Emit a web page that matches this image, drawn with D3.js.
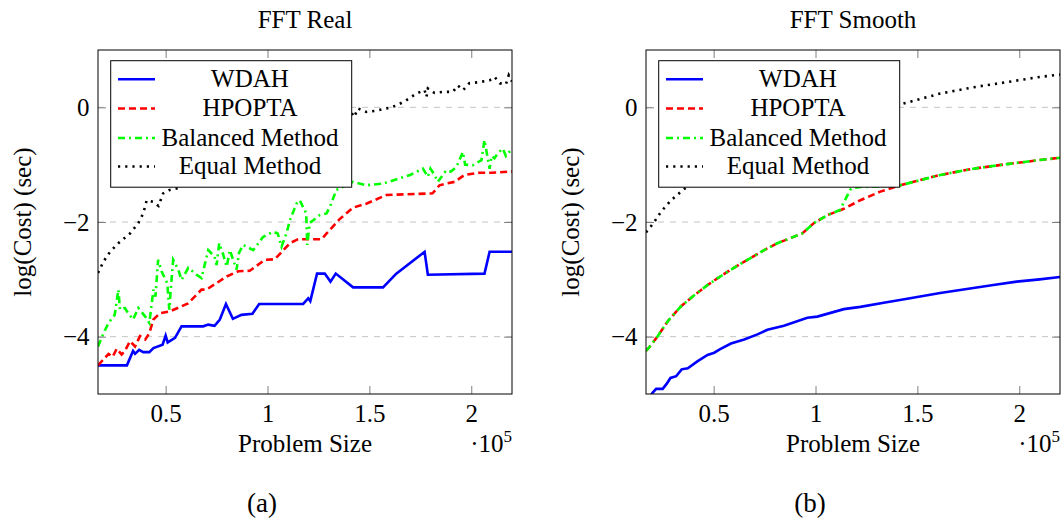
<!DOCTYPE html>
<html><head><meta charset="utf-8">
<script src="https://cdn.jsdelivr.net/npm/d3@7"></script>
<style>body{margin:0;background:#fff}svg{display:block}</style>
</head><body>
<svg id="c" width="1062" height="524"></svg>
<script>
// ---------- data (x in units of 1e5, y = log(Cost)) ----------
const xTicks = [0.5, 1, 1.5, 2];
const yTicks = [-4, -2, 0];
const xDomain = [0.168, 2.2];
const yDomain = [-5, 1];
const seriesNames = ["WDAH", "HPOPTA", "Balanced Method", "Equal Method"];
const panelTitles = ["FFT Real", "FFT Smooth"];
const panelTags = ["(a)", "(b)"];

const realWDAH = [[0.168,-4.5],[0.31,-4.5],[0.34,-4.25],[0.35,-4.3],[0.37,-4.23],[0.39,-4.27],[0.42,-4.27],[0.44,-4.2],[0.485,-4.14],[0.50,-3.98],[0.51,-4.1],[0.546,-4.02],[0.578,-3.82],[0.684,-3.82],[0.709,-3.79],[0.74,-3.81],[0.766,-3.7],[0.796,-3.43],[0.83,-3.69],[0.872,-3.62],[0.926,-3.6],[0.959,-3.43],[1.175,-3.43],[1.2,-3.33],[1.21,-3.38],[1.243,-2.9],[1.281,-2.9],[1.309,-3.04],[1.335,-2.9],[1.42,-3.14],[1.567,-3.14],[1.632,-2.9],[1.771,-2.52],[1.787,-2.92],[2.065,-2.9],[2.09,-2.52],[2.2,-2.52]];
const realHPOPTA = [[0.168,-4.5],[0.22,-4.3],[0.24,-4.35],[0.26,-4.21],[0.284,-4.31],[0.30,-4.25],[0.325,-4.08],[0.35,-4.17],[0.374,-3.99],[0.40,-4.05],[0.42,-3.94],[0.44,-3.7],[0.472,-3.59],[0.52,-3.56],[0.61,-3.42],[0.676,-3.18],[0.70,-3.18],[0.80,-2.95],[0.856,-2.86],[0.913,-2.85],[0.987,-2.66],[1.036,-2.65],[1.11,-2.37],[1.15,-2.3],[1.265,-2.3],[1.29,-2.2],[1.354,-1.95],[1.42,-1.75],[1.485,-1.68],[1.583,-1.53],[1.81,-1.5],[1.844,-1.36],[1.877,-1.33],[1.918,-1.3],[1.967,-1.18],[2.04,-1.14],[2.1,-1.14],[2.2,-1.12]];
const realBalanced = [[0.168,-4.17],[0.195,-3.94],[0.22,-3.76],[0.25,-3.62],[0.268,-3.18],[0.276,-3.53],[0.30,-3.5],[0.316,-3.59],[0.34,-3.7],[0.366,-3.5],[0.40,-3.65],[0.42,-3.76],[0.43,-3.47],[0.44,-3.18],[0.45,-3.3],[0.463,-2.66],[0.48,-2.86],[0.508,-3.07],[0.518,-3.53],[0.525,-3.18],[0.537,-2.66],[0.562,-2.83],[0.578,-3.01],[0.611,-2.8],[0.652,-2.92],[0.676,-2.98],[0.709,-2.49],[0.74,-2.6],[0.75,-2.75],[0.763,-2.37],[0.78,-2.54],[0.80,-2.78],[0.815,-2.49],[0.848,-2.83],[0.86,-2.54],[0.88,-2.4],[0.93,-2.49],[0.978,-2.26],[1.027,-2.17],[1.05,-2.2],[1.069,-2.43],[1.093,-2.2],[1.11,-1.97],[1.142,-1.68],[1.158,-1.62],[1.19,-1.85],[1.195,-2.4],[1.207,-2.02],[1.256,-1.88],[1.29,-1.85],[1.31,-1.7],[1.338,-1.44],[1.42,-1.3],[1.485,-1.36],[1.567,-1.33],[1.7,-1.18],[1.763,-1.07],[1.787,-1.21],[1.8,-1.07],[1.82,-1.18],[1.836,-1.3],[1.877,-1.1],[1.9,-1.12],[1.927,-1.04],[1.959,-0.78],[1.97,-1.0],[2.008,-1.01],[2.05,-0.92],[2.065,-0.57],[2.09,-1.07],[2.1,-0.85],[2.114,-0.89],[2.13,-0.8],[2.155,-0.72],[2.17,-0.85],[2.2,-0.72]];
const realEqual = [[0.168,-2.89],[0.195,-2.69],[0.227,-2.52],[0.268,-2.37],[0.325,-2.2],[0.366,-2.02],[0.39,-1.85],[0.407,-1.62],[0.44,-1.65],[0.465,-1.72],[0.488,-1.5],[0.52,-1.44],[0.56,-1.41],[0.62,-1.3],[0.7,-1.15],[0.8,-0.95],[0.9,-0.75],[1.0,-0.55],[1.1,-0.4],[1.2,-0.3],[1.3,-0.15],[1.38,-0.1],[1.41,-0.08],[1.425,-0.17],[1.444,-0.02],[1.485,-0.08],[1.534,-0.06],[1.583,-0.02],[1.632,0.03],[1.68,0.12],[1.73,0.24],[1.771,0.3],[1.78,0.18],[1.787,0.33],[1.82,0.25],[1.86,0.27],[1.91,0.27],[1.934,0.38],[1.96,0.3],[1.99,0.42],[2.04,0.44],[2.09,0.47],[2.115,0.53],[2.14,0.42],[2.17,0.4],[2.184,0.56],[2.2,0.45]];

const smoothWDAH = [[0.168,-5.15],[0.2,-4.98],[0.218,-4.91],[0.25,-4.91],[0.27,-4.82],[0.288,-4.72],[0.316,-4.69],[0.343,-4.57],[0.373,-4.55],[0.42,-4.43],[0.47,-4.32],[0.503,-4.28],[0.53,-4.22],[0.585,-4.12],[0.65,-4.05],[0.715,-3.96],[0.764,-3.88],[0.845,-3.81],[0.96,-3.67],[1.009,-3.65],[1.139,-3.52],[1.22,-3.48],[1.335,-3.41],[1.45,-3.34],[1.612,-3.24],[1.775,-3.15],[1.873,-3.1],[1.987,-3.04],[2.1,-3.0],[2.2,-2.96]];
const smoothHPOPTA = [[0.168,-4.25],[0.185,-4.18],[0.226,-3.99],[0.275,-3.73],[0.34,-3.47],[0.397,-3.3],[0.47,-3.1],[0.52,-2.98],[0.585,-2.83],[0.666,-2.66],[0.748,-2.49],[0.813,-2.37],[0.878,-2.28],[0.935,-2.2],[0.992,-2.02],[1.058,-1.88],[1.139,-1.77],[1.22,-1.62],[1.318,-1.47],[1.416,-1.36],[1.612,-1.18],[1.775,-1.07],[1.94,-0.99],[2.1,-0.92],[2.2,-0.88]];
const smoothBalanced = [[0.168,-4.25],[0.185,-4.18],[0.226,-3.99],[0.275,-3.73],[0.34,-3.47],[0.397,-3.3],[0.47,-3.1],[0.52,-2.98],[0.585,-2.83],[0.666,-2.66],[0.748,-2.49],[0.813,-2.37],[0.878,-2.28],[0.935,-2.2],[0.992,-2.02],[1.058,-1.88],[1.12,-1.79],[1.17,-1.44],[1.18,-1.41],[1.22,-1.39],[1.3,-1.38],[1.416,-1.36],[1.612,-1.18],[1.775,-1.07],[1.94,-0.99],[2.1,-0.92],[2.2,-0.88]];
const smoothEqual = [[0.168,-2.18],[0.185,-2.11],[0.21,-1.99],[0.242,-1.82],[0.291,-1.62],[0.34,-1.47],[0.4,-1.3],[0.5,-1.07],[0.6,-0.88],[0.7,-0.72],[0.8,-0.58],[0.9,-0.46],[1.0,-0.35],[1.1,-0.24],[1.2,-0.15],[1.3,-0.06],[1.425,0.06],[1.612,0.24],[1.775,0.35],[1.94,0.44],[2.1,0.53],[2.2,0.57]];

const panelSeries = [
  [realWDAH, realHPOPTA, realBalanced, realEqual],
  [smoothWDAH, smoothHPOPTA, smoothBalanced, smoothEqual]
];

// ---------- styling / layout ----------
const FS = 25;
const LW = 2.6;
const seriesStyle = [
  {color: "#0000ff", dash: null},
  {color: "#ff0000", dash: "7,4"},
  {color: "#00ff00", dash: "7,4,2,4"},
  {color: "#000000", dash: "2.2,5"}
];
const panelLeft = [98, 646];
const W = 414, TOP = 50, BOTTOM = 394;

const svg = d3.select("#c");
const fmt = d => d < 0 ? "\u2212" + Math.abs(d) : String(d);
const txt = (sel, size) => sel
  .attr("font-family", "Liberation Serif")
  .style("font-family", '"Liberation Serif"')
  .attr("font-size", size)
  .attr("fill", "#000");

panelLeft.forEach((L, pi) => {
  const x = d3.scaleLinear().domain(xDomain).range([L, L + W]);
  const y = d3.scaleLinear().domain(yDomain).range([BOTTOM, TOP]);
  const g = svg.append("g");

  // grid
  g.append("g").selectAll("line").data(yTicks).join("line")
    .attr("x1", L).attr("x2", L + W)
    .attr("y1", d => y(d)).attr("y2", d => y(d))
    .attr("stroke", "#c4c4c4").attr("stroke-width", 1).attr("stroke-dasharray", "6,6");

  // clip
  const cid = "clip" + pi;
  svg.append("defs").append("clipPath").attr("id", cid)
    .append("rect").attr("x", L).attr("y", TOP).attr("width", W).attr("height", BOTTOM - TOP);

  const line = d3.line().x(d => x(d[0])).y(d => y(d[1]));
  const lg = g.append("g").attr("clip-path", `url(#${cid})`);
  panelSeries[pi].forEach((data, si) => {
    lg.append("path").datum(data)
      .attr("d", line)
      .attr("fill", "none")
      .attr("stroke", seriesStyle[si].color)
      .attr("stroke-width", LW)
      .attr("stroke-dasharray", seriesStyle[si].dash);
  });

  // axes (inward ticks)
  const tickCol = "#808080";
  const ax = (sel) => {
    sel.attr("font-family", null).attr("font-size", null);
    sel.select(".domain").remove();
    sel.selectAll(".tick line").attr("stroke", tickCol);
  };
  g.append("g").attr("transform", `translate(0,${BOTTOM})`)
    .call(d3.axisBottom(x).tickValues(xTicks).tickSize(-8).tickPadding(10).tickFormat(d => String(d)))
    .call(ax)
    .selectAll("text").call(txt, FS);
  g.append("g").attr("transform", `translate(0,${TOP})`)
    .call(d3.axisTop(x).tickValues(xTicks).tickSize(-8).tickFormat(""))
    .call(ax);
  g.append("g").attr("transform", `translate(${L},0)`)
    .call(d3.axisLeft(y).tickValues(yTicks).tickSize(-8).tickPadding(8.5).tickFormat(fmt))
    .call(ax)
    .selectAll("text").call(txt, FS);
  g.append("g").attr("transform", `translate(${L + W},0)`)
    .call(d3.axisRight(y).tickValues(yTicks).tickSize(-8).tickFormat(""))
    .call(ax);

  // frame
  g.append("rect").attr("x", L).attr("y", TOP).attr("width", W).attr("height", BOTTOM - TOP)
    .attr("fill", "none").attr("stroke", "#000").attr("stroke-width", 1);

  // legend
  const leg = g.append("g");
  leg.append("rect").attr("x", L + 12.7).attr("y", 60.7).attr("width", 241).attr("height", 126.5)
    .attr("fill", "#fff").attr("stroke", "#000").attr("stroke-width", 1);
  const rowBase = [86.7, 116, 145.5, 174];
  seriesNames.forEach((name, si) => {
    const by = rowBase[si];
    leg.append("line").attr("x1", L + 20).attr("x2", L + 57)
      .attr("y1", by - 7.5).attr("y2", by - 7.5)
      .attr("stroke", seriesStyle[si].color).attr("stroke-width", LW)
      .attr("stroke-dasharray", seriesStyle[si].dash);
    leg.append("text").attr("x", L + 152).attr("y", by)
      .attr("text-anchor", "middle").call(txt, FS)
      .text(name);
  });

  // texts
  g.append("text").attr("x", L + W / 2).attr("y", 28).attr("text-anchor", "middle")
    .call(txt, FS).text(panelTitles[pi]);
  g.append("text").attr("transform", `translate(${L - 67},${(TOP + BOTTOM) / 2}) rotate(-90)`)
    .attr("text-anchor", "middle").call(txt, FS)
    .text("log(Cost) (sec)");
  g.append("text").attr("x", L + W / 2).attr("y", 452).attr("text-anchor", "middle")
    .call(txt, FS).text("Problem Size");
  const sc = g.append("text").attr("x", L + W).attr("y", 452).attr("text-anchor", "end")
    .call(txt, FS);
  sc.append("tspan").text("\u00B710");
  sc.append("tspan").attr("dy", -10).attr("font-size", 17).text("5");
  g.append("text").attr("x", L + 164).attr("y", 512).attr("text-anchor", "middle")
    .call(txt, 27).text(panelTags[pi]);
});
</script>
</body></html>
